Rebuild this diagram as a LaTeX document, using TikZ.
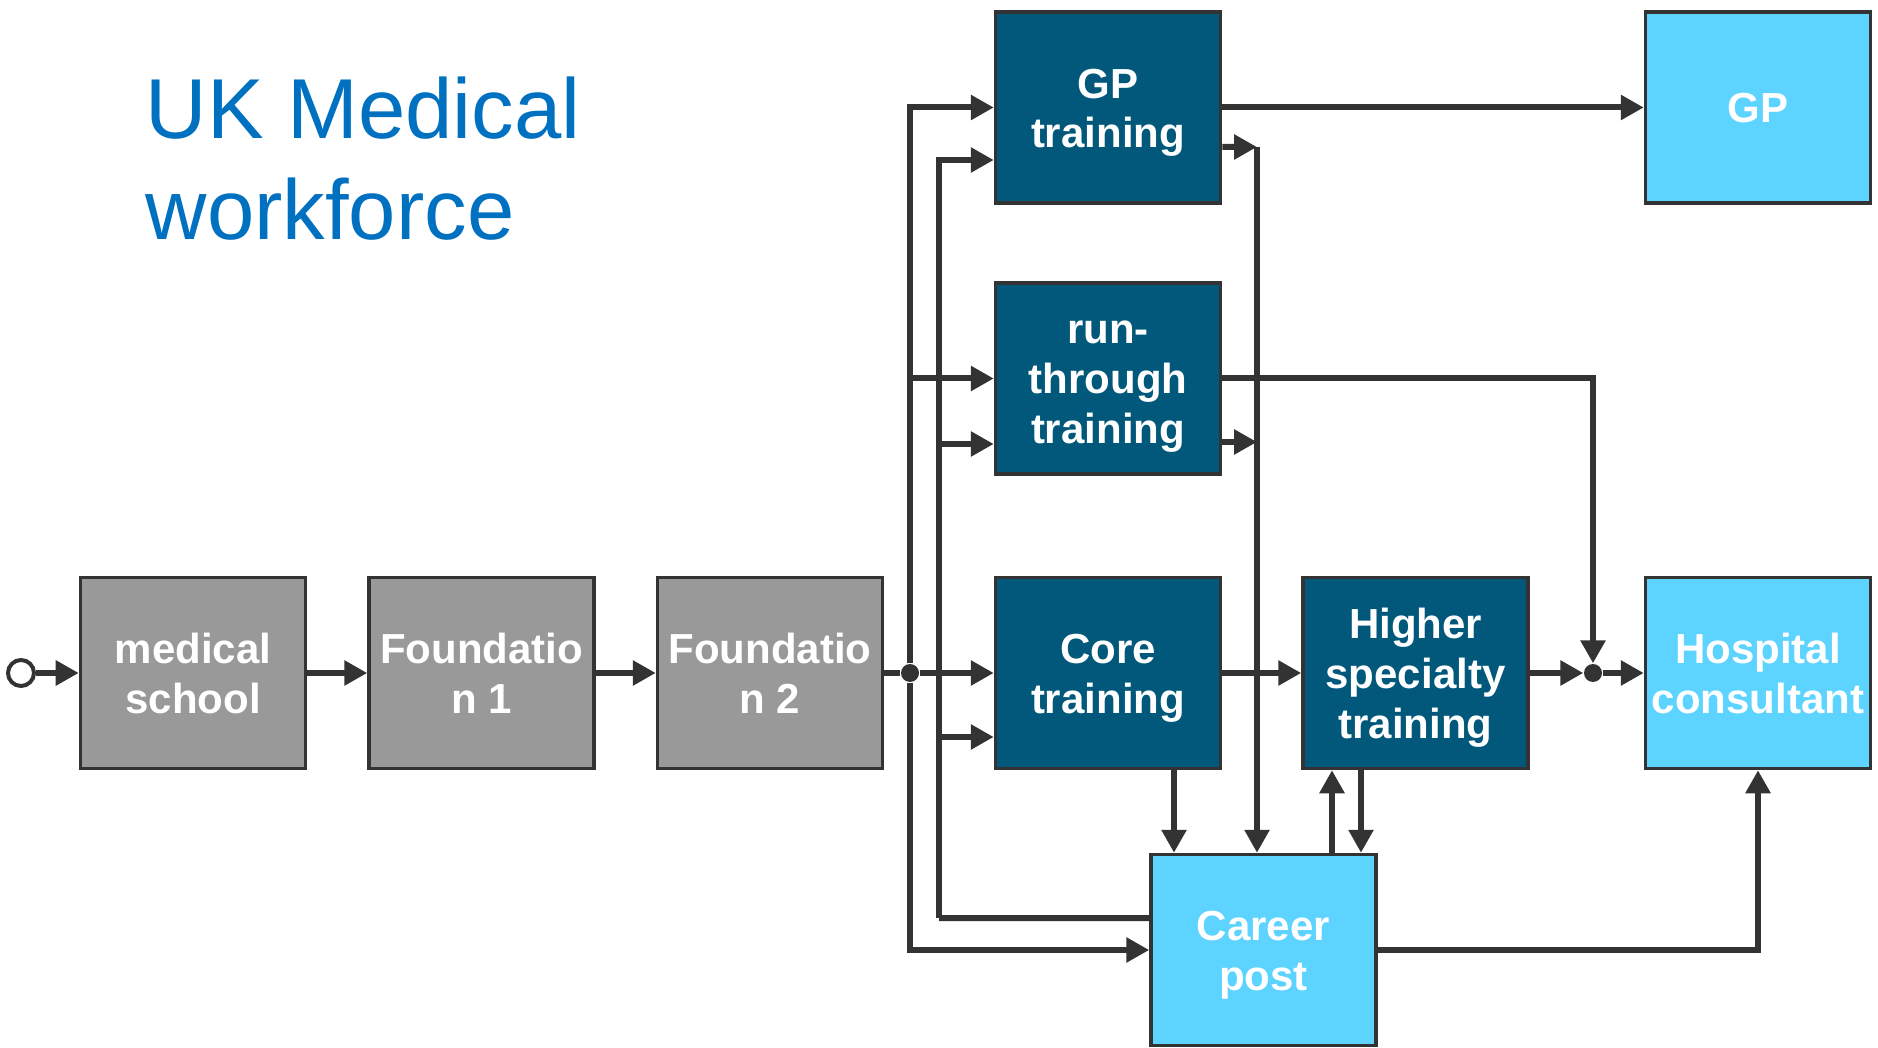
\documentclass[tikz,border=0pt]{standalone}
\usepackage{fontspec}
\setmainfont{Liberation Sans}
\usetikzlibrary{arrows.meta}

\definecolor{stageGray}{HTML}{999999}
\definecolor{trainBlue}{HTML}{02587A}
\definecolor{postCyan}{HTML}{5DD3FF}
\definecolor{lineGray}{HTML}{333333}
\definecolor{titleBlue}{HTML}{0070C0}

\begin{document}
\begin{tikzpicture}[
    >={Triangle[length=2.3mm,width=2.4mm]},
    box/.style={draw=lineGray,line width=0.035cm,minimum width=2.25cm,minimum height=1.91cm,
        inner sep=0pt,text=white,align=center,text depth=2.3pt,text height=25.3pt,
        font=\fontsize{11.95pt}{14.2pt}\selectfont\bfseries},
    one/.style={text height=11.1pt},
    three/.style={text height=39.3pt},
    stage/.style={box,fill=stageGray},
    train/.style={box,fill=trainBlue},
    post/.style={box,fill=postCyan},
    wire/.style={draw=lineGray,line width=0.06cm},
    joint/.style={circle,fill=lineGray,inner sep=0pt,minimum size=0.18cm},
]
    \useasboundingbox (0, 0) rectangle (18.78, 10.47);

    \node[anchor=base west,align=left,inner sep=0pt,text=titleBlue,font=\fontsize{24.2pt}{29pt}\selectfont] (title) at (1.45, 8.07) {UK Medical\\workforce};

    % undergraduate and foundation years
    \node[circle,draw=lineGray,line width=0.04cm,fill=white,minimum size=0.26cm,inner sep=0pt] (start) at (0.21, 3.74) {};
    \node[stage] (med) at (1.93, 3.74) {medical\\school};
    \node[stage] (f1) at (4.815, 3.74) {Foundatio\\n 1};
    \node[stage] (f2) at (7.70, 3.74) {Foundatio\\n 2};
    \node[joint] (dot1) at (9.10, 3.74) {};

    % training posts
    \node[train] (gpt) at (11.08, 9.395) {GP\\training};
    \node[train,three] (rtt) at (11.08, 6.685) {run-\\through\\training};
    \node[train] (core) at (11.08, 3.74) {Core\\training};
    \node[train,three] (hst) at (14.155, 3.74) {Higher\\specialty\\training};
    \node[joint] (dot2) at (15.93, 3.74) {};

    % end points
    \node[post,one] (gp) at (17.58, 9.395) {GP};
    \node[post] (hc) at (17.58, 3.74) {Hospital\\consultant};
    \node[post] (career) at (12.635, 0.97) {Career\\post};

    \coordinate (laneB) at (9.39, 1.29);
    \coordinate (laneC) at (12.57, 9.00);
    \coordinate (gptOut) at ([yshift=-3.95mm]gpt.east);
    \coordinate (rttOut) at ([yshift=-6.35mm]rtt.east);
    \coordinate (coreOut) at ([xshift=6.6mm]core.south);
    \coordinate (hstIn) at ([xshift=-8.35mm]hst.south);
    \coordinate (hstOut) at ([xshift=-5.45mm]hst.south);

    \draw[wire,->] (start) -- (med);
    \draw[wire,->] (med) -- (f1);
    \draw[wire,->] (f1) -- (f2);
    \draw[wire] (f2) -- (dot1);

    % from foundation into training
    \draw[wire,->] (dot1) -- (core);
    \draw[wire,->] (dot1) |- (gpt.west);
    \draw[wire,->] (dot1) |- (rtt.west);
    \draw[wire,->] (dot1) |- (career.west);

    % back from career post into training
    \draw[wire] ([yshift=3.2mm]career.west) -- (laneB);
    \draw[wire,->] (laneB) |- ([yshift=-5.25mm]gpt.west);
    \draw[wire,->] (laneB) |- ([yshift=-6.55mm]rtt.west);
    \draw[wire,->] (laneB) |- ([yshift=-6.4mm]core.west);

    % out of training
    \draw[wire,->] (gpt) -- (gp);
    \draw[wire,->] (gptOut) -- (laneC);
    \draw[wire,->] (rttOut) -- (rttOut -| laneC);
    \draw[wire,->] (laneC) -- (laneC |- career.north);
    \draw[wire,->] (rtt.east) -| (dot2);
    \draw[wire,->] (core) -- (hst);
    \draw[wire,->] (coreOut) -- (coreOut |- career.north);
    \draw[wire,->] (hstIn |- career.north) -- (hstIn);
    \draw[wire,->] (hstOut) -- (hstOut |- career.north);
    \draw[wire,->] (hst) -- (dot2);
    \draw[wire,->] (dot2) -- (hc);
    \draw[wire,->] (career.east) -| (hc.south);
\end{tikzpicture}
\end{document}
